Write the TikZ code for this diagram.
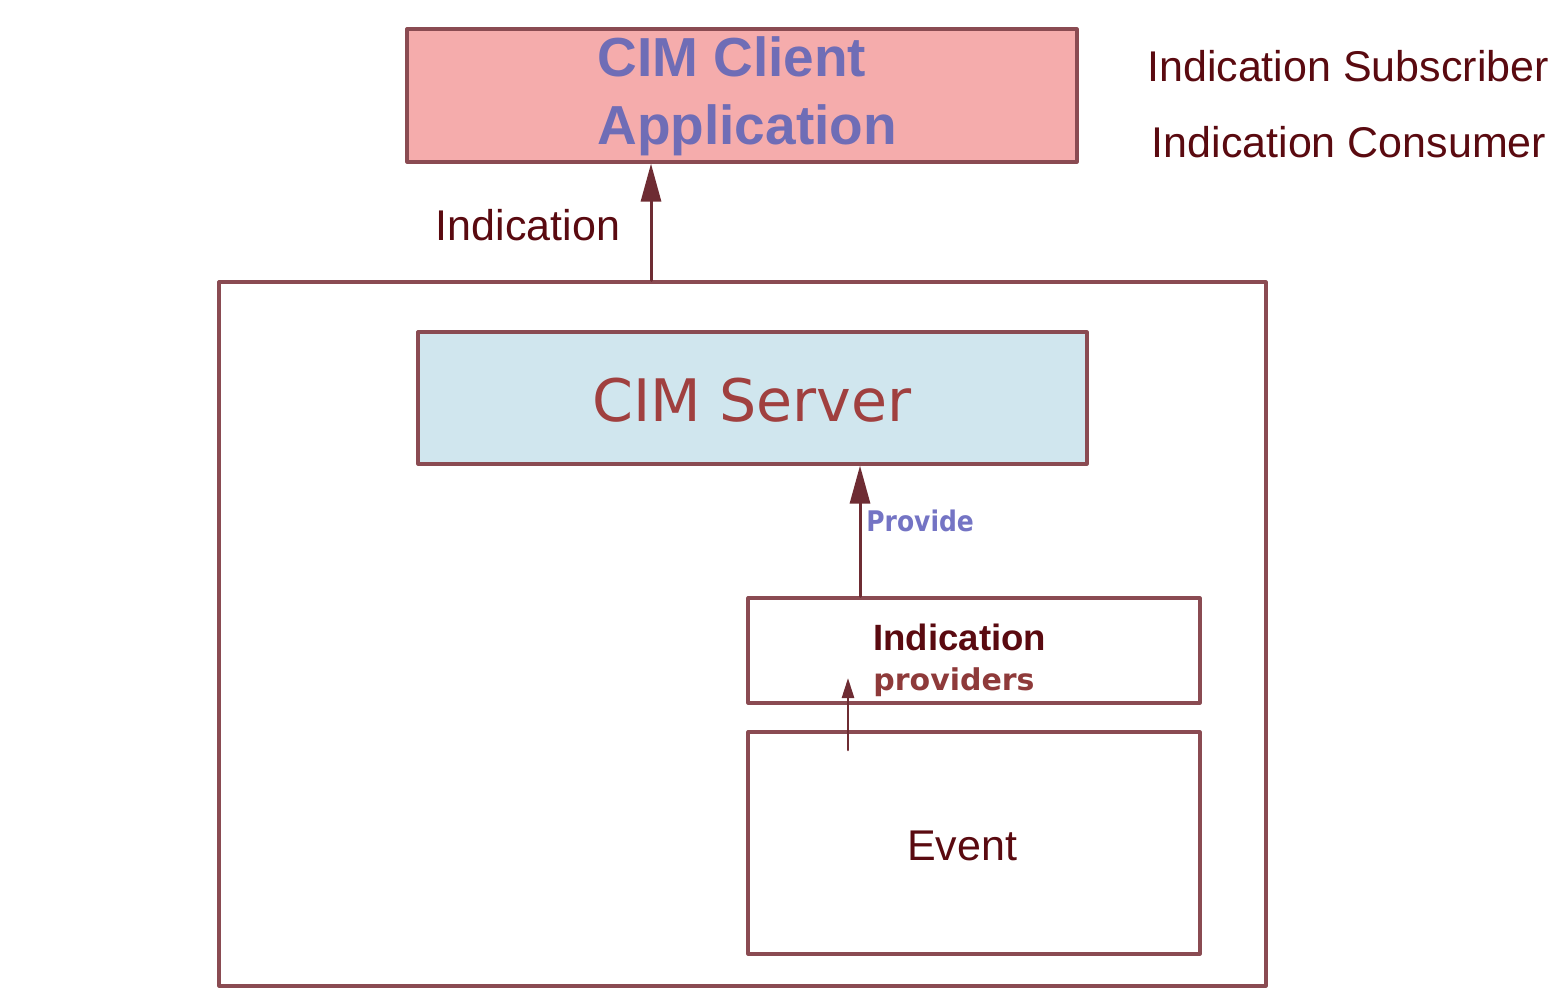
\documentclass[tikz,border=0pt]{standalone}
\usepackage{fontspec}
\setmainfont{Liberation Sans}
\newfontfamily\djv{DejaVu Sans}
\newfontfamily\djvnarrow[FakeStretch=0.88]{DejaVu Sans}
\usetikzlibrary{arrows.meta}

\definecolor{boxline}{HTML}{8A4B52}
\definecolor{arrowcol}{HTML}{6E2C33}
\definecolor{clientfill}{HTML}{F5ACAC}
\definecolor{clienttext}{HTML}{6F6DB6}
\definecolor{serverfill}{HTML}{D0E6EE}
\definecolor{servertext}{HTML}{A0403F}
\definecolor{darktext}{HTML}{5A0A10}
\definecolor{provtext}{HTML}{8E3A3A}
\definecolor{providetext}{HTML}{7474C4}

\tikzset{
  box/.style={draw=boxline, line width=1.6pt, inner sep=0pt},
  label text/.style={inner sep=0pt, text=darktext, font=\fontsize{21.5}{24}\selectfont},
  bigarrow/.style={draw=arrowcol, line width=1.5pt, -{Triangle[length=19pt,width=10pt]}},
  smallarrow/.style={draw=arrowcol, line width=1.3pt, -{Triangle[length=10pt,width=6pt]}}
}

\begin{document}
\begin{tikzpicture}[line cap=round, line join=round, x=0.5pt, y=-0.5pt]

                \useasboundingbox (0,0) rectangle (1559,989);

                % boxes
                \node[box, fill=clientfill, minimum width=335pt, minimum height=66.5pt] (client) at (742,95.5) {};
                \node[box, minimum width=523.5pt, minimum height=352pt] (platform) at (742.5,634) {};
                \node[box, fill=serverfill, minimum width=334.5pt, minimum height=66pt] (server) at (752.5,398) {};
                \node[box, minimum width=226pt, minimum height=52.5pt] (prov) at (974,650.5) {};
                \node[box, minimum width=226pt, minimum height=111pt] (event) at (974,843) {};

                % texts
                \node[anchor=base west, inner sep=0pt, text=clienttext, font=\bfseries\fontsize{27.5}{30}\selectfont] (clientA) at (597,77) {CIM Client};
                \node[anchor=base west, inner sep=0pt, text=clienttext, font=\bfseries\fontsize{27.5}{30}\selectfont] (clientB) at (597,145) {Application};
                \node[label text, anchor=base] (subscriber) at (1348,82) {Indication Subscriber};
                \node[label text, anchor=base] (consumer) at (1349,158) {Indication Consumer};
                \node[label text, anchor=base] (indlabel) at (528,241) {Indication};
                \node[anchor=base, inner sep=0pt, text=servertext, font=\djv\fontsize{29.3}{32}\selectfont] (servername) at (752,422) {CIM Server};
                \node[anchor=base west, inner sep=0pt, text=providetext, font=\djvnarrow\bfseries\fontsize{14.2}{16}\selectfont] (provide) at (866,531) {Provide};
                \node[anchor=base west, inner sep=0pt, text=darktext, font=\bfseries\fontsize{18.3}{20}\selectfont] (provA) at (873,650) {Indication};
                \node[anchor=base west, inner sep=0pt, text=provtext, font=\djv\bfseries\fontsize{15}{17}\selectfont] (provB) at (873,690) {providers};
                \node[label text, anchor=base] (eventname) at (962,860) {Event};

                % connectors
                \coordinate (indx) at (651,0);
                \coordinate (providex) at (860,0);
                \coordinate (evstart) at (848,750);
                \coordinate (evend) at (848,678);
                \draw[bigarrow] (platform.north -| indx) -- (client.south -| indx);
                \draw[bigarrow] (prov.north -| providex) -- (server.south -| providex);
                \draw[smallarrow] (evstart) -- (evend);

\end{tikzpicture}
\end{document}
